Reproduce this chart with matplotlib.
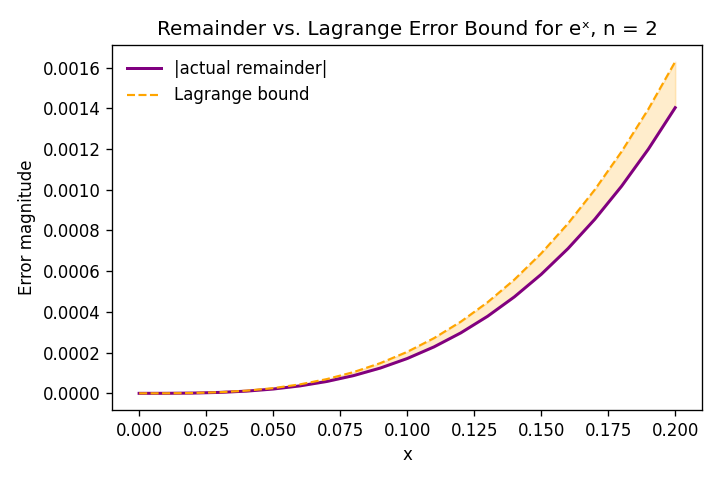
import numpy as np
import matplotlib
matplotlib.use("Agg")
import matplotlib.pyplot as plt

# x sample points and the values
x = [0.00, 0.01, 0.02, 0.03, 0.04, 0.05, 0.06, 0.07, 0.08, 0.09, 0.10,
     0.11, 0.12, 0.13, 0.14, 0.15, 0.16, 0.17, 0.18, 0.19, 0.20]
actual = [0.0, 1.67e-7, 1.340e-6, 4.534e-6, 1.0774e-5, 2.1096e-5, 3.6547e-5,
          5.8181e-5, 8.7067e-5, 1.24283e-4, 1.70918e-4, 2.28068e-4, 2.96847e-4,
          3.78377e-4, 4.73789e-4, 5.84227e-4, 7.10847e-4, 8.54817e-4,
          1.017315e-3, 1.199531e-3, 1.402758e-3]
bound = [0.0, 2.036e-7, 1.629e-6, 5.496e-6, 1.3028e-5, 2.5446e-5, 4.3970e-5,
         6.9823e-5, 1.04226e-4, 1.48400e-4, 2.03567e-4, 2.70948e-4, 3.51764e-4,
         4.47237e-4, 5.58588e-4, 6.87039e-4, 8.33811e-4, 1.000125e-3,
         1.187203e-3, 1.396266e-3, 1.628537e-3]

# 6x4 inch at 120 dpi -> 720x480
fig, ax = plt.subplots(figsize=(6, 4), dpi=120)
fig.subplots_adjust(left=0.156, right=0.975, bottom=0.146, top=0.906)

ax.plot(x, actual, color="purple", lw=1.8, label="|actual remainder|")
ax.plot(x, bound, color="orange", lw=1.3, ls="--", label="Lagrange bound")
ax.fill_between(x, actual, bound, color="orange", alpha=0.2)

ax.set_title("Remainder vs. Lagrange Error Bound for e\u02e3, n = 2")
ax.set_xlabel("x")
ax.set_ylabel("Error magnitude")
ax.legend(loc="upper left", frameon=False)

fig.savefig("out.png", dpi=120)
